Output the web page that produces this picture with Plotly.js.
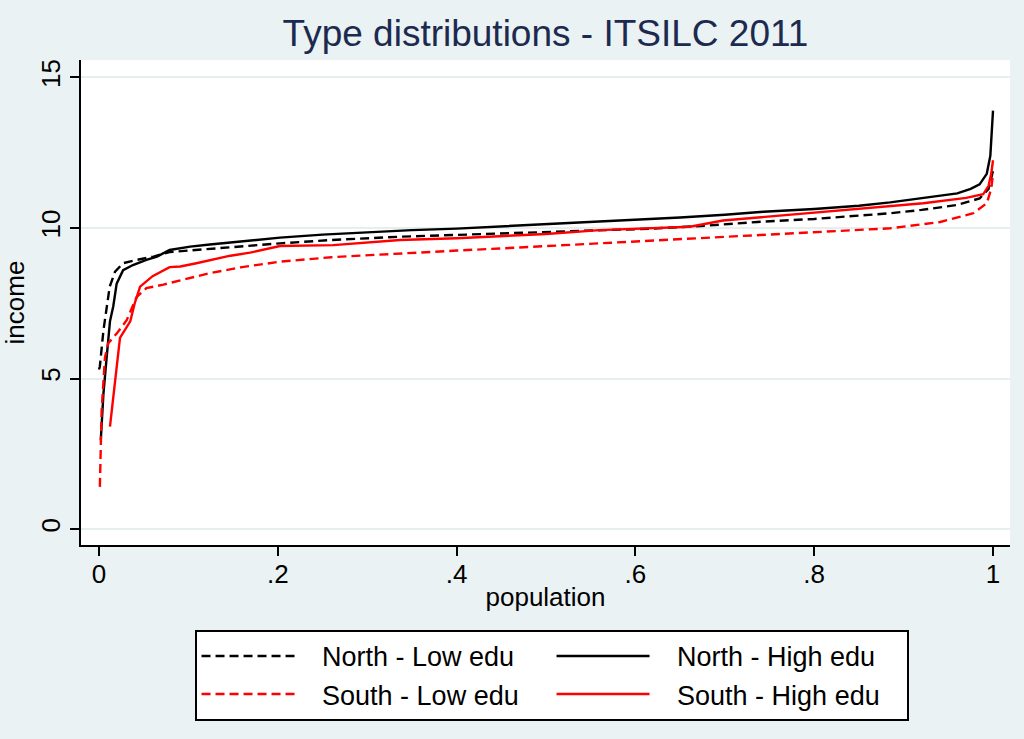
<!DOCTYPE html>
<html>
<head>
<meta charset="utf-8">
<script src="https://cdn.plot.ly/plotly-3.0.1.min.js"></script>
<style>html,body{margin:0;padding:0;background:#EAF2F3;}#chart{width:1024px;height:739px;}</style>
</head>
<body>
<div id="chart"></div>
<script>
// North - Low edu
var northLowX = [0.000,0.001,0.005,0.009,0.012,0.018,0.027,0.042,0.061,0.079,0.100,0.124,0.160,0.2025,0.260,0.337,0.400,0.449,0.500,0.560,0.620,0.680,0.736,0.800,0.850,0.885,0.920,0.959,0.985,0.995,1.000];
var northLowY = [5.3,5.4,6.6,7.4,8.05,8.55,8.83,8.94,9.05,9.2,9.25,9.3,9.4,9.49,9.6,9.71,9.77,9.82,9.87,9.93,9.98,10.08,10.2,10.3,10.4,10.49,10.6,10.76,10.98,11.3,11.9];
// North - High edu
var northHighX = [0.002,0.005,0.0086,0.0123,0.016,0.0198,0.027,0.038,0.053,0.065,0.079,0.102,0.124,0.160,0.2025,0.250,0.300,0.350,0.400,0.449,0.500,0.549,0.600,0.650,0.700,0.743,0.800,0.850,0.885,0.920,0.960,0.975,0.985,0.993,0.997,1.000];
var northHighY = [2.95,4.5,5.7,6.9,7.4,8.15,8.6,8.77,8.94,9.05,9.27,9.38,9.45,9.55,9.68,9.78,9.86,9.93,9.98,10.05,10.12,10.19,10.27,10.35,10.44,10.54,10.63,10.74,10.85,10.98,11.15,11.3,11.45,11.8,12.4,13.9];
// South - Low edu
var southLowX = [0.001,0.003,0.0067,0.0104,0.020,0.031,0.042,0.053,0.072,0.094,0.124,0.160,0.2025,0.260,0.337,0.400,0.449,0.500,0.560,0.650,0.736,0.800,0.885,0.941,0.978,0.993,0.998,1.000];
var southLowY = [1.4,3.95,5.7,6.17,6.5,6.94,7.7,8.0,8.12,8.27,8.5,8.7,8.88,9.03,9.16,9.25,9.32,9.4,9.5,9.63,9.77,9.86,9.99,10.2,10.49,10.82,11.3,11.8];
// South - High edu
var southHighX = [0.0123,0.018,0.0235,0.035,0.040,0.046,0.060,0.079,0.091,0.109,0.147,0.169,0.2025,0.262,0.300,0.337,0.400,0.449,0.500,0.560,0.620,0.661,0.698,0.750,0.810,0.870,0.922,0.970,0.989,0.995,0.998,1.000];
var southHighY = [3.4,5.0,6.35,6.9,7.5,8.05,8.4,8.7,8.72,8.83,9.08,9.18,9.4,9.43,9.52,9.6,9.66,9.72,9.8,9.93,9.99,10.04,10.25,10.38,10.54,10.67,10.82,11.0,11.12,11.4,11.8,12.25];

var seriesNames = ['North - Low edu','North - High edu','South - Low edu','South - High edu'];
var xTickVals = [0,0.2,0.4,0.6,0.8,1];
var xTickText = ['0','.2','.4','.6','.8','1'];
var yTickVals = [0,5,10,15];
var yTickText = ['0','5','10','15'];

var pad = '\u00a0\u00a0\u00a0';
var F = 'Liberation Sans, Arial, sans-serif';
function tr(x, y, name, color, dash) {
  return {x: x, y: y, name: pad + name, type: 'scatter', mode: 'lines',
    line: {color: color, width: 2.4, dash: dash}};
}
var data = [
  tr(northLowX, northLowY, seriesNames[0], '#000000', '9px,5px'),
  tr(northHighX, northHighY, seriesNames[1], '#000000', 'solid'),
  tr(southLowX, southLowY, seriesNames[2], '#FF0000', '9px,5px'),
  tr(southHighX, southHighY, seriesNames[3], '#FF0000', 'solid')
];

var layout = {
  width: 1024, height: 739,
  paper_bgcolor: '#EAF2F3',
  plot_bgcolor: '#FFFFFF',
  margin: {l: 81, r: 14, t: 60, b: 194},
  font: {family: F, color: '#000000', size: 26},
  title: {text: 'Type distributions - ITSILC 2011', x: 0.5, xref: 'paper', xanchor: 'center',
    y: 0.955, yref: 'container', yanchor: 'middle',
    font: {family: F, size: 37, color: '#1C2A50'}},
  xaxis: {range: [-0.0201, 1.019], tickvals: xTickVals, ticktext: xTickText,
    ticks: 'outside', ticklen: 9, tickwidth: 2, tickcolor: '#000000',
    showline: true, linecolor: '#000000', linewidth: 2,
    showgrid: false, zeroline: false, ticklabelstandoff: -4,
    tickfont: {family: F, size: 26, color: '#000000'},
    title: {text: 'population', font: {family: F, size: 26, color: '#000000'}, standoff: 0}},
  yaxis: {range: [-0.53, 15.58], tickvals: yTickVals, ticktext: yTickText, tickangle: -90,
    ticks: 'outside', ticklen: 9, tickwidth: 2, tickcolor: '#000000',
    showline: true, linecolor: '#000000', linewidth: 2,
    showgrid: true, gridcolor: '#E6EEEF', gridwidth: 2, zeroline: false,
    tickfont: {family: F, size: 26, color: '#000000'},
    title: {text: 'income', font: {family: F, size: 26, color: '#000000'}, standoff: 6}},
  showlegend: true,
  legend: {orientation: 'h', x: 0.5065, xanchor: 'center', xref: 'paper', y: -0.175, yanchor: 'top',
    bgcolor: '#FFFFFF', bordercolor: '#000000', borderwidth: 2,
    font: {family: F, size: 27, color: '#000000'},
    itemwidth: 93, entrywidth: 247, traceorder: 'normal'}
};

Plotly.newPlot('chart', data, layout, {displayModeBar: false, staticPlot: true});
</script>
</body>
</html>
